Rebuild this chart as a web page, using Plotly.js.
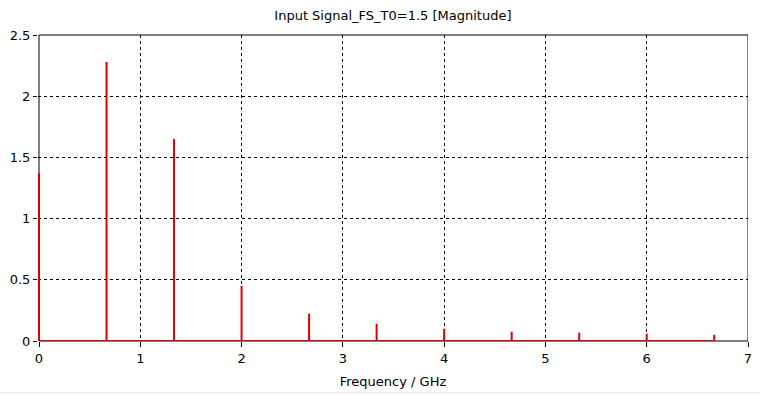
<!DOCTYPE html>
<html>
<head>
<meta charset="utf-8">
<script src="https://cdn.plot.ly/plotly-3.0.1.min.js"></script>
<style>html,body{margin:0;padding:0;background:#fff;}#chart{width:760px;height:395px;}</style>
</head>
<body>
<div id="chart"></div>
<script>
const freqs = [0, 0.6667, 1.3333, 2.0, 2.6667, 3.3333, 4.0, 4.6667, 5.3333, 6.0, 6.6667];
const magnitudes = [1.37, 2.28, 1.65, 0.45, 0.223, 0.141, 0.10, 0.076, 0.068, 0.06, 0.051];
const xTicks = [0, 1, 2, 3, 4, 5, 6, 7];
const yTicks = [0, 0.5, 1, 1.5, 2, 2.5];

const sx = [], sy = [];
freqs.forEach((f, i) => { sx.push(f, f, null); sy.push(0, magnitudes[i], null); });
sx.push(freqs[0], freqs[freqs.length - 1]);
sy.push(0, 0);

const font = {family: 'Tahoma, "DejaVu Sans", sans-serif', size: 13, color: '#000'};
const xMin = xTicks[0], xMax = xTicks[xTicks.length - 1];
const pad = (xMax - xMin) / 709;

Plotly.newPlot('chart', [{
  type: 'scatter', mode: 'lines', x: sx, y: sy, cliponaxis: false,
  line: {color: '#e00000', width: 2}, connectgaps: false, hoverinfo: 'skip'
}], {
  width: 760, height: 395,
  margin: {l: 38, r: 12, t: 35, b: 54},
  paper_bgcolor: '#fff', plot_bgcolor: '#fff',
  showlegend: false,
  font: font,
  title: {text: 'Input Signal_FS_T0=1.5 [Magnitude]', x: 0.517, xanchor: 'center', y: 0.96, yanchor: 'middle', font: {family: font.family, size: 13, color: '#000'}},
  xaxis: {
    range: [xMin - pad, xMax], tickvals: xTicks, ticktext: xTicks.map(String),
    showgrid: true, gridcolor: '#000', gridwidth: 1, griddash: '3px,3px',
    zeroline: false, showline: false,
    ticks: 'outside', ticklen: 5, tickcolor: '#000',
    title: {text: 'Frequency / GHz', font: font, standoff: 12},
    tickfont: font, fixedrange: true
  },
  yaxis: {
    range: [0, 2.5], tickvals: yTicks, ticktext: yTicks.map(String),
    showgrid: true, gridcolor: '#000', gridwidth: 1, griddash: '3px,3px',
    zeroline: false, showline: false,
    ticks: 'outside', ticklen: 4, tickcolor: '#000',
    tickfont: font, fixedrange: true
  },
  shapes: [
    {type: 'rect', xref: 'x', yref: 'paper', x0: xMin, x1: xMax, y0: 0, y1: 1, layer: 'below', line: {color: '#000', width: 1}},
    {type: 'line', xref: 'paper', yref: 'paper', x0: -0.06, x1: 1.02, y0: -0.17, y1: -0.17, line: {color: '#e0e0e0', width: 1}}
  ]
}, {displayModeBar: false, staticPlot: true});
</script>
</body>
</html>
